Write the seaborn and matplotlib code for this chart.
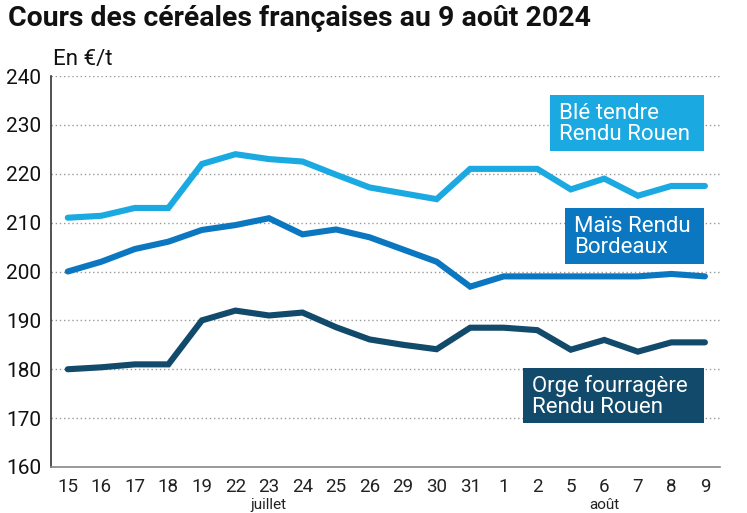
import matplotlib
matplotlib.use("Agg")
import matplotlib.pyplot as plt
from matplotlib.patches import Rectangle
import seaborn as sns
import pandas as pd
import numpy as np

days = ["15", "16", "17", "18", "19", "22", "23", "24", "25", "26", "29", "30", "31",
        "1", "2", "5", "6", "7", "8", "9"]
months = ["juillet", "août"]
month_centers = [6, 16]

ble = [211, 211.4, 213, 213, 222, 224, 223, 222.5, 219.8, 217.2, 216, 214.8, 221,
       221, 221, 216.8, 219, 215.5, 217.5, 217.5]
mais = [200, 202, 204.6, 206.1, 208.5, 209.5, 210.9, 207.6, 208.6, 207, 204.5, 202, 196.9,
        199, 199, 199, 199, 199, 199.5, 199]
orge = [180, 180.4, 181, 181, 190, 192, 191, 191.6, 188.6, 186.1, 185, 184.1, 188.5,
        188.5, 188, 184, 186, 183.6, 185.5, 185.5]

series_names = ["Blé tendre\nRendu Rouen", "Maïs Rendu\nBordeaux", "Orge fourragère\nRendu Rouen"]
colors = ["#1aa9e1", "#0a77c0", "#114a6b"]
# label boxes in figure pixels (left, top, right, bottom)
label_boxes = [(550, 95, 704, 151), (565, 208, 704, 264), (523, 368, 704, 423)]

sns.set_theme(style="white")
plt.rcParams["font.family"] = ["Roboto", "DejaVu Sans"]

rows = []
for name, vals in zip(series_names, [ble, mais, orge]):
    for i, v in enumerate(vals):
        rows.append({"idx": i, "value": v, "serie": name})
df = pd.DataFrame(rows)

W, H = 747, 513
fig = plt.figure(figsize=(W / 100, H / 100), dpi=100)
ax = fig.add_axes([51 / W, 1 - 467 / H, (720 - 51) / W, (467 - 76) / H])

sns.lineplot(data=df, x="idx", y="value", hue="serie", palette=colors,
             linewidth=4.4, ax=ax, legend=False, solid_capstyle="round",
             solid_joinstyle="miter")

ax.set_xlim(-0.5, 19.45)
ax.set_ylim(160, 240)
ax.set_yticks(np.arange(160, 241, 10))
ax.set_xticks(range(len(days)))
ax.set_xticklabels(days)
ax.tick_params(axis="x", labelsize=13.5, colors="#222222", length=0, pad=8)
ax.tick_params(axis="y", labelsize=15, colors="#111111", length=0, pad=7)
ax.set_xlabel("")
ax.set_ylabel("")

for yv in range(170, 241, 10):
    ax.axhline(yv, color="#999999", linestyle=(0, (1, 2)), linewidth=1.0, zorder=0)

for s in ["top", "right"]:
    ax.spines[s].set_visible(False)
ax.spines["left"].set_color("#333333")
ax.spines["bottom"].set_color("#888888")
ax.spines["left"].set_linewidth(1.2)
ax.spines["bottom"].set_linewidth(1.2)

# labels as boxes
for name, c, (l, t, r, b) in zip(series_names, colors, label_boxes):
    fig.add_artist(Rectangle((l / W, 1 - b / H), (r - l) / W, (b - t) / H,
                             transform=fig.transFigure, fc=c, ec="none", zorder=5))
    fig.text((l + 9) / W, 1 - ((t + b) / 2 + 1) / H, name, color="white", fontsize=16,
             ha="left", va="center", linespacing=1.02, zorder=6)

for m, mc in zip(months, month_centers):
    ax.annotate(m, xy=(mc, 0), xycoords=("data", "figure pixels"),
                xytext=(0, 1), textcoords="offset pixels",
                ha="center", va="bottom", fontsize=11, color="#222222",
                annotation_clip=False)

fig.text(8 / W, 1 - 18 / H, "Cours des céréales françaises au 9 août 2024",
         fontsize=20.4, fontweight="bold", ha="left", va="center", color="#111111")
fig.text(53 / W, 1 - 60 / H, "En €/t", fontsize=16, ha="left", va="center", color="#111111")

fig.savefig("out.png", dpi=100)
